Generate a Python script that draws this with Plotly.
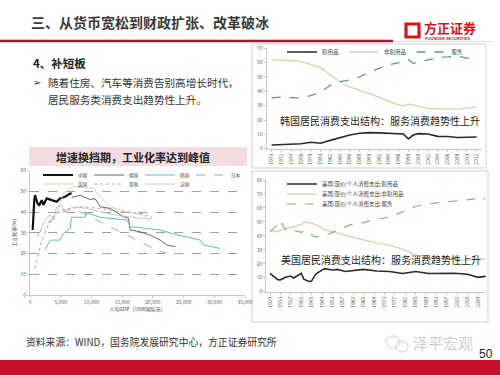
import plotly.graph_objects as go

W, H = 500, 375
def px(x): return x / W
def py(y): return 1 - y / H

FONT = "Noto Sans CJK SC"

# ---------------- Left chart: industrialisation rate vs GDP per capita ----------------
left_names = ["中国", "德国", "韩国", "日本", "英国", "美国", "法国"]
cn_x = [435, 550, 700, 815, 1000, 1250, 1522, 1902, 2174, 2717, 3533, 4348, 4891, 5707, 6522, 6794]
cn_y = [31.4, 40, 46, 48.2, 46, 44, 43.4, 45.8, 43.5, 46.6, 45.8, 45, 46.6, 47.4, 49, 49]
de_x = [6794, 8152, 9783, 10598, 11413, 13043, 15217, 16033, 16304, 17935, 19565, 21196, 22283, 23641]
de_y = [47.1, 48.2, 46.1, 46.5, 42.6, 41.8, 37.8, 37.0, 31.4, 30.5, 28.9, 26.5, 24.1, 23.3]
kr_x = [2446, 3261, 4891, 5435, 6522, 6794, 8967, 9239, 11413, 13587, 15761, 16304, 19022, 21196, 23098, 25543, 27717, 28261, 30978]
kr_y = [21.7, 26.5, 26.5, 29.7, 32.2, 37.5, 37.5, 39.7, 37.5, 36.7, 36.2, 33.0, 32.2, 31.4, 29.7, 28.1, 26.5, 24.1, 22.5]
jp_x = [1087, 2174, 3804, 5435, 6794, 8152, 10326, 13043, 15761, 17935, 20109, 22283]
jp_y = [28.1, 33.0, 37.0, 40.2, 41.8, 40.2, 37.0, 33.0, 28.9, 25.7, 22.5, 20.1]
uk_x = [4348, 5435, 7065, 10326, 11413, 13043, 15761, 18478, 19837]
uk_y = [39.4, 49.0, 52.3, 51.4, 47.4, 42.6, 40.2, 38.6, 34.6]
us_x = [815, 1359, 1902, 2717, 3804, 5163, 6794, 8696, 11413, 14674, 17935, 19837]
us_y = [12.9, 20.1, 26.5, 32.2, 37.8, 41.0, 41.8, 42.6, 41.8, 40.2, 39.4, 37.8]
fr_x = [1630, 2446, 3261, 3804, 4348, 5163, 5707, 6250, 6794, 9239, 11413, 14130, 17935, 19837]
fr_y = [30.5, 36.2, 38.6, 36.2, 42.6, 43.4, 40.2, 41.0, 42.6, 41.8, 40.2, 38.6, 37.0, 37.0]
left_ticks = [0, 5000, 10000, 15000, 20000, 25000, 30000, 35000]

# ---------------- Korea consumption structure ----------------
kr_years = [1970, 1972, 1974, 1976, 1978, 1980, 1982, 1984, 1986, 1988, 1990, 1992, 1994,
            1996, 1997, 1998, 1999, 2000, 2002, 2004, 2006, 2008, 2010, 2012]
kr_durable = [2.6, 2.8, 3.2, 3.5, 4.5, 3.8, 5.8, 7.8, 9.5, 10.8, 11.2, 11.0, 10.8,
              10.6, 10.2, 6.8, 9.5, 10.5, 10.3, 8.6, 8.5, 7.8, 8.2, 8.2]
kr_nondurable = [61.9, 61.8, 61.5, 60.8, 58.8, 56.5, 51.5, 46.5, 43.0, 40.8, 38.6, 35.8, 33.0,
                 30.5, 30.0, 31.0, 30.6, 29.5, 28.0, 27.8, 27.4, 27.6, 28.3, 29.2]
kr_services = [35.5, 36.0, 35.6, 35.3, 37.0, 39.5, 44.2, 46.8, 48.0, 50.0, 53.5, 56.0, 58.5,
               60.0, 61.0, 62.2, 59.5, 60.3, 62.0, 63.6, 64.0, 64.6, 63.2, 62.6]
kr_names = ["耐用品", "非耐用品", "服务"]
kr_ticks = list(range(1970, 2013, 2))

# ---------------- US consumption structure ----------------
us_years = [1929, 1931, 1932, 1933, 1934, 1935, 1937, 1938, 1940, 1941, 1942, 1943, 1944, 1945,
            1946, 1947, 1950, 1953, 1955, 1958, 1960, 1965, 1970, 1975, 1980, 1985, 1990,
            1995, 2000, 2005, 2008, 2009, 2011, 2012]
us_durable = [13.1, 10.5, 8.6, 8.5, 9.5, 10.3, 11.2, 9.8, 12.0, 13.2, 9.0, 8.0, 7.3, 7.6,
              11.0, 13.1, 16.5, 15.5, 16.0, 14.5, 15.0, 16.0, 14.8, 14.5, 13.0, 14.5, 13.0,
              13.0, 13.2, 12.5, 11.0, 10.3, 10.8, 11.0]
us_nondurable = [44.0, 43.5, 43.0, 44.0, 44.8, 45.3, 46.0, 46.5, 47.0, 48.0, 50.0, 50.0, 49.5, 49.0,
                 48.5, 47.7, 44.5, 43.0, 41.8, 40.5, 39.4, 37.0, 35.0, 33.4, 30.5, 26.3, 24.6,
                 23.9, 23.2, 22.5, 23.5, 23.0, 23.4, 23.2]
us_services = [43.0, 46.0, 48.0, 51.0, 47.0, 44.5, 43.0, 44.0, 43.0, 42.5, 43.5, 44.0, 42.0, 40.5,
               39.5, 39.3, 40.0, 42.5, 44.0, 46.5, 48.0, 49.5, 52.0, 53.5, 57.5, 61.0, 63.0,
               64.0, 64.5, 65.5, 66.5, 67.8, 67.0, 66.5]
us_names = ["美国:现价:个人消费支出:耐用品", "美国:现价:个人消费支出:非耐用品", "美国:现价:个人消费支出:服务"]
us_ticks = list(range(1929, 2010, 4))

fig = go.Figure()

left_series = [
    (cn_x, cn_y, dict(color="#111111", width=2.2), "legend"),
    (de_x, de_y, dict(color="#666666", width=1), "legend"),
    (kr_x, kr_y, dict(color="#5bbfc8", width=1), "legend"),
    (jp_x, jp_y, dict(color="#a8a8a8", width=1, dash="dash"), "legend"),
    (uk_x, uk_y, dict(color="#dccfb6", width=1), "legend4"),
    (us_x, us_y, dict(color="#d4a3b8", width=1.2, dash="dot"), "legend4"),
    (fr_x, fr_y, dict(color="#b9b9b9", width=0.8), "legend4"),
]
for name, (xs, ys, line, lg) in zip(left_names, left_series):
    fig.add_trace(go.Scatter(x=xs, y=ys, name=name, mode="lines", line=line,
                             xaxis="x", yaxis="y", legend=lg))

kr_styles = [dict(color="#2b2b2b", width=1.6), dict(color="#ddd2b8", width=1.4),
             dict(color="#5a9e86", width=1.3, dash="dash")]
for name, ys, line in zip(kr_names, [kr_durable, kr_nondurable, kr_services], kr_styles):
    fig.add_trace(go.Scatter(x=kr_years, y=ys, name=name, mode="lines", line=line,
                             xaxis="x2", yaxis="y2", legend="legend2"))

us_styles = [dict(color="#2b2b2b", width=1.6), dict(color="#ddd2b8", width=1.4),
             dict(color="#8fb07a", width=1.2, dash="dash")]
for name, ys, line, lg in zip(us_names, [us_durable, us_nondurable, us_services], us_styles,
                              ["legend3", "legend5", "legend6"]):
    fig.add_trace(go.Scatter(x=us_years, y=ys, name=name, mode="lines", line=line,
                             xaxis="x3", yaxis="y3", legend=lg))

tick_font = dict(family=FONT, size=5, color="#666")
axis_common = dict(showline=True, linecolor="#c8c8c8", linewidth=0.8, ticks="outside",
                   ticklen=2, tickcolor="#c8c8c8", zeroline=False, tickfont=tick_font,
                   automargin=False)

fig.update_layout(
    width=W, height=H, margin=dict(l=0, r=0, t=0, b=0),
    paper_bgcolor="white", plot_bgcolor="rgba(0,0,0,0)",
    template="none", font=dict(family=FONT, color="#333"),
    xaxis=dict(domain=[px(30), px(245)], range=[0, 35000], tickvals=left_ticks,
               tickformat=",", showgrid=False, anchor="y",
               title=dict(text="人均GDP（1990国际元）", font=dict(family=FONT, size=5, color="#444"), standoff=3),
               **axis_common),
    yaxis=dict(domain=[py(295), py(170.7)], range=[0, 60], dtick=10, anchor="x",
               showgrid=True, gridcolor="#a0a0a0", griddash="dash", gridwidth=0.6,
               title=dict(text="工业化率(%)", font=dict(family=FONT, size=5, color="#444"), standoff=3),
               **axis_common),
    xaxis2=dict(domain=[px(266.8), px(481.6)], range=[1969, 2013], tickvals=kr_ticks,
                tickangle=-90, showgrid=False, anchor="y2", **axis_common),
    yaxis2=dict(domain=[py(148.7), py(48.3)], range=[0, 70], dtick=10, showgrid=False,
                anchor="x2", **axis_common),
    xaxis3=dict(domain=[px(266.1), px(485.8)], range=[1927.5, 2012], tickvals=us_ticks,
                tickangle=-90, showgrid=False, anchor="y3", **axis_common),
    yaxis3=dict(domain=[py(291.7), py(180)], range=[0, 80], dtick=10, showgrid=False,
                anchor="x3", **axis_common),
    showlegend=True,
)

leg_common = dict(bgcolor="rgba(0,0,0,0)", borderwidth=0, itemwidth=30)
fig.update_layout(
    legend=dict(orientation="h", x=px(38), xanchor="left", y=py(175), yanchor="middle",
                entrywidth=6, font=dict(family=FONT, size=4.5, color="#444"), **leg_common),
    legend4=dict(orientation="h", x=px(38), xanchor="left", y=py(184), yanchor="middle",
                 entrywidth=6, font=dict(family=FONT, size=4.5, color="#444"), **leg_common),
    legend2=dict(orientation="h", x=px(282), xanchor="left", y=py(52), yanchor="middle",
                 font=dict(family=FONT, size=5.5, color="#444"), **leg_common),
    legend3=dict(x=px(282), xanchor="left", y=py(184), yanchor="middle",
                 font=dict(family=FONT, size=5.5, color="#444"), **leg_common),
    legend5=dict(x=px(282), xanchor="left", y=py(194), yanchor="middle",
                 font=dict(family=FONT, size=5.5, color="#444"), **leg_common),
    legend6=dict(x=px(282), xanchor="left", y=py(204), yanchor="middle",
                 font=dict(family=FONT, size=5.5, color="#444"), **leg_common),
)

shapes = []
def rect(x0, y0, x1, y1, **kw):
    shapes.append(dict(type="rect", xref="paper", yref="paper", x0=px(x0), x1=px(x1),
                       y0=py(y1), y1=py(y0), layer="below", **kw))
def hline(x0, x1, y, color, width):
    shapes.append(dict(type="line", xref="paper", yref="paper", x0=px(x0), x1=px(x1),
                       y0=py(y), y1=py(y), line=dict(color=color, width=width)))

# header rule
hline(0, 393, 41, "#a31b2d", 2.5)
hline(393, 492, 41.5, "#dcdcdc", 1)
# logo square
rect(406, 24, 419, 37, line=dict(color="#d7141a", width=3.2), fillcolor="rgba(0,0,0,0)")
# chart frames
rect(252, 44, 486, 168, line=dict(color="#d0d0d0", width=1), fillcolor="rgba(0,0,0,0)")
rect(252, 171, 488, 322, line=dict(color="#d0d0d0", width=1), fillcolor="rgba(0,0,0,0)")
# pink title bar
rect(29, 147, 247, 166, line=dict(width=0), fillcolor="#f3dde1")
# bottom red band
rect(0, 360, 500, 375, line=dict(width=0), fillcolor="#c8112c")
# watermark icon
shapes.append(dict(type="circle", xref="paper", yref="paper", x0=px(386), x1=px(400),
                   y0=py(348), y1=py(336), line=dict(color="#d0d0d0", width=1)))
shapes.append(dict(type="circle", xref="paper", yref="paper", x0=px(396), x1=px(408),
                   y0=py(352), y1=py(341), line=dict(color="#d0d0d0", width=1)))
fig.update_layout(shapes=shapes)

ann = []
def text(t, x, y, size, color="#333", xanchor="left", bold=False, family=FONT):
    ann.append(dict(text=f"<b>{t}</b>" if bold else t, x=px(x), y=py(y), xref="paper",
                    yref="paper", xanchor=xanchor, yanchor="middle", showarrow=False,
                    font=dict(family=family, size=size, color=color)))

text("三、从货币宽松到财政扩张、改革破冰", 29, 22, 14, "#3a3a3a", bold=True)
text("方正证券", 422, 28, 13, "#d7141a", bold=True)
text("FOUNDER SECURITIES", 423, 38.5, 4, "#d7141a", bold=True, family="Liberation Sans")
text("4、补短板", 31, 63, 11.5, "#222", bold=True)
text("➢", 31, 82, 10, "#333", family="DejaVu Sans")
text("随着住房、汽车等消费告别高增长时代，", 46, 82, 10.6, "#333")
text("居民服务类消费支出趋势性上升。", 46, 100, 10.6, "#333")
text("增速换挡期，工业化率达到峰值", 133, 156.5, 11, "#222", xanchor="center", bold=True)
text("韩国居民消费支出结构：服务消费趋势性上升", 380, 120, 10, "#222", xanchor="center")
text("美国居民消费支出结构：服务消费趋势性上升", 381, 259, 10, "#222", xanchor="center")
text("资料来源：WIND，国务院发展研究中心，方正证券研究所", 24, 342, 9.8, "#333")
text("泽平宏观", 443, 342, 15, "#cfcfcf", xanchor="center")
text("50", 486, 354, 12, "#222", xanchor="center", family="Liberation Sans")
fig.update_layout(annotations=ann)

fig.write_html("out.html", config={"displayModeBar": False},
               post_script="document.body.style.margin='0';")
